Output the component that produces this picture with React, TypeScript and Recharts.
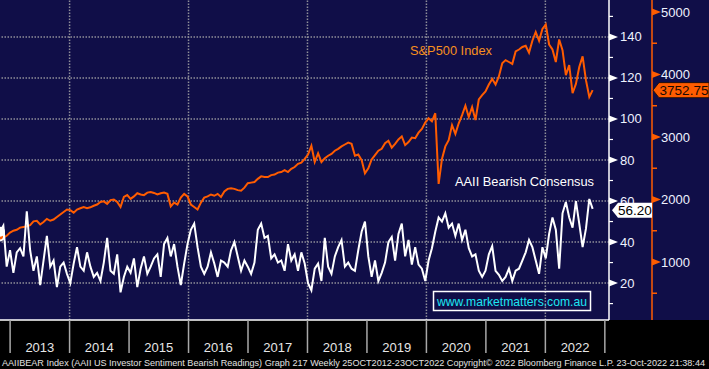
import React from "react";
import { LineChart, Line, XAxis, YAxis, ReferenceLine, ReferenceDot } from "recharts";

// weekly series sampled every ~3 weeks, 25 Oct 2012 .. 23 Oct 2022
const startYear = 2012.83;
const stepYears = 0.0563;

const bearish = [
  45, 48, 28, 36, 25, 35, 37, 33, 55, 36, 26, 33, 19, 31, 43, 28, 31, 18, 28, 30,
  24.5, 20, 29.5, 37.5, 28, 26, 35, 28, 23, 25, 21, 30, 42, 26, 24.5, 34, 15.5, 23, 28, 25,
  32, 18, 27, 33, 24.5, 28, 32, 34, 23, 39, 42, 33, 39, 28, 19, 29.5, 39, 46, 49, 37.5,
  28, 24.5, 28, 35, 29.5, 23, 31, 30, 28, 36, 40, 33, 26, 31, 28, 24.5, 30, 46, 49, 42,
  43, 32, 34, 30, 31, 26, 39, 31, 34, 26, 35, 29.5, 20, 16.5, 27, 29.5, 21, 42, 28, 24.5,
  33, 37.5, 41, 28, 30, 27, 26, 36,
  45, 50, 33, 23, 31, 21, 25, 30, 40, 42.5, 31, 44, 49, 33, 41, 29, 37.5, 29, 27, 21,
  31, 37, 45, 52, 50, 54, 47, 49, 43, 49, 41, 46, 37, 33, 34, 26, 23, 26, 34, 38,
  26, 24, 21, 23, 27, 21, 26, 27, 31, 35, 41, 37.5, 31, 24.5, 37.5, 32, 44, 52, 46, 27,
  54, 59.5, 52, 47, 60, 49, 37.5, 46.5, 61, 56.2,
];

const spx500 = [
  1410, 1390, 1420,
  1470, 1500, 1515, 1550, 1560, 1570, 1590, 1650, 1660, 1600, 1640, 1690, 1660, 1680, 1720, 1760, 1800, 1840,
  1830, 1790, 1840, 1860, 1880, 1860, 1875, 1900, 1920, 1960, 1970, 1930, 1990, 2000, 1960, 1880, 2040, 2070,
  2010, 2050, 2100, 2080, 2070, 2110, 2120, 2105, 2080, 2100, 2110, 2090, 1890, 1950, 1920, 2030, 2090, 2050,
  1920, 1880, 1840, 1950, 2030, 2050, 2080, 2060, 2090, 2040, 2130, 2170, 2180, 2170, 2150, 2140, 2190, 2260,
  2270, 2280, 2330, 2370, 2360, 2360, 2390, 2400, 2430, 2440, 2470, 2440, 2490, 2520, 2570, 2590, 2650,
  2720, 2860, 2600, 2740, 2600, 2660, 2700, 2730, 2780, 2810, 2850, 2880, 2910, 2890, 2700, 2720, 2630, 2420,
  2500, 2640, 2710, 2780, 2810, 2900, 2940, 2830, 2890, 2960, 3010, 2870, 2920, 2990, 2980, 3070, 3130, 3230,
  3300, 3250, 3380, 2250, 2650, 2850, 2950, 3190, 3050, 3220, 3350, 3500, 3320, 3480, 3270, 3600, 3670, 3730,
  3840, 3930, 3840, 3970, 4180, 4230, 4200, 4170, 4370, 4400, 4440, 4460, 4350, 4540, 4680, 4540, 4730, 4800,
  4480, 4400, 4200, 4560, 4390, 3990, 4150, 3700, 3850, 4120, 4290, 3910, 3640, 3750,
];

const yearStarts = [2013, 2014, 2015, 2016, 2017, 2018, 2019, 2020, 2021, 2022, 2023];
const yearLabels = ["2013", "2014", "2015", "2016", "2017", "2018", "2019", "2020", "2021", "2022"];
const yearMids = [2013.5, 2014.5, 2015.5, 2016.5, 2017.5, 2018.5, 2019.5, 2020.5, 2021.5, 2022.5];
const gridYears = [2014, 2016, 2018, 2020, 2022];
const bearTicks = [10, 20, 30, 40, 50, 60, 70, 80, 90, 100, 110, 120, 130, 140, 150];
const bearGrid = [20, 40, 60, 80, 100, 120, 140];
const spxTicks = [500, 1000, 1500, 2000, 2500, 3000, 3500, 4000, 4500, 5000];

const lastBear = "56.20";
const lastSpx = "3752.75";

const data = bearish.map((b, i) => ({ t: startYear + i * stepYears, bear: b, spx: spx500[i] }));

const NAVY = "#100e48";
const ORANGE = "#ff5c00";
const GRID = "#8e8e98";
const FONT = "'Liberation Sans', Arial, sans-serif";

const BearTick = (props: any) => {
  const { x, y, payload } = props;
  const v = payload.value;
  if (v % 20 !== 0) return <line x1={x} x2={x + 4} y1={y} y2={y} stroke="#fff" strokeWidth={1.2} />;
  return (
    <g>
      <polygon points={`${x},${y - 3.5} ${x},${y + 3.5} ${x + 9},${y}`} fill="#fff" />
      <text x={x + 11} y={y + 4.5} fill="#eef2ff" fontSize={13} fontFamily={FONT}>{v}</text>
    </g>
  );
};

const SpxTick = (props: any) => {
  const { x, y, payload } = props;
  const v = payload.value;
  if (v % 1000 !== 0) return <line x1={x} x2={x + 5} y1={y} y2={y} stroke={ORANGE} strokeWidth={1.5} />;
  return (
    <g>
      <polygon points={`${x},${y - 3.5} ${x},${y + 3.5} ${x + 9},${y}`} fill={ORANGE} />
      <text x={x + 9} y={y + 4.5} fill="#eef2ff" fontSize={13} fontFamily={FONT}>{v}</text>
    </g>
  );
};

const NoTick = () => <g />;

const YearTick = (props: any) => (
  <text x={props.x} y={props.y + 31} textAnchor="middle" fill="#e6e6e6" fontSize={13} fontFamily={FONT}>
    {yearLabels[props.index]}
  </text>
);

const BearTag = (props: any) => {
  const { cx, cy } = props;
  const x = cx + 3;
  const y = cy + 1.5;
  return (
    <g>
      <polygon
        points={`${x},${y} ${x + 6},${y - 7.5} ${x + 40},${y - 7.5} ${x + 40},${y + 7.5} ${x + 6},${y + 7.5}`}
        fill="#fff"
      />
      <text x={x + 23} y={y + 5} textAnchor="middle" fill="#000" fontSize={13.5} fontFamily={FONT}>{lastBear}</text>
    </g>
  );
};

const SpxTag = (props: any) => {
  const { cx, cy } = props;
  const x = cx + 44;
  return (
    <g>
      <polygon
        points={`${x},${cy} ${x + 6},${cy - 7.5} ${x + 56},${cy - 7.5} ${x + 56},${cy + 7.5} ${x + 6},${cy + 7.5}`}
        fill={ORANGE}
        stroke="#1a0a00"
        strokeWidth={0.8}
      />
      <text x={x + 31} y={cy + 5} textAnchor="middle" fill="#1a0800" fontSize={13.5} fontFamily={FONT}>{lastSpx}</text>
    </g>
  );
};

const App = () => {
  return (
    <div
      style={{
        position: "relative",
        width: 709,
        height: 369,
        background: `linear-gradient(${NAVY} 0 320px, #000 320px)`,
      }}
    >
      <style>{"body{margin:0}"}</style>
      <LineChart width={709} height={369} data={data} margin={{ top: 0, right: 0, bottom: 0, left: 0 }}>
        <XAxis
          xAxisId={0}
          type="number"
          dataKey="t"
          domain={[2012.83, 2023.07]}
          allowDataOverflow
          ticks={yearStarts}
          interval={0}
          height={1}
          tickSize={33}
          tick={NoTick}
          tickLine={{ stroke: "#a8a8a8", strokeWidth: 1.5 }}
          axisLine={{ stroke: "#fff", strokeWidth: 1.5 }}
        />
        <XAxis
          xAxisId="lab"
          type="number"
          dataKey="t"
          domain={[2012.83, 2023.07]}
          allowDataOverflow
          ticks={yearMids}
          interval={0}
          height={48}
          tickSize={0}
          tickMargin={0}
          tick={YearTick}
          tickLine={false}
          axisLine={false}
        />
        <YAxis
          yAxisId="bear"
          orientation="right"
          width={43}
          domain={[2, 158]}
          allowDataOverflow
          ticks={bearTicks}
          interval={0}
          tickSize={0}
          tickMargin={0}
          tick={BearTick}
          tickLine={false}
          axisLine={{ stroke: "#fff", strokeWidth: 1.5 }}
        />
        <YAxis
          yAxisId="spx"
          orientation="right"
          width={57}
          domain={[72, 5192]}
          allowDataOverflow
          ticks={spxTicks}
          interval={0}
          tickSize={0}
          tickMargin={0}
          tick={SpxTick}
          tickLine={false}
          axisLine={{ stroke: ORANGE, strokeWidth: 1.5 }}
        />
        {bearGrid.map((v) => (
          <ReferenceLine key={"h" + v} yAxisId="bear" y={v} stroke={GRID} strokeWidth={1.5} strokeDasharray="1.5 1.5" />
        ))}
        {gridYears.map((v) => (
          <ReferenceLine key={"v" + v} yAxisId="bear" x={v} stroke={GRID} strokeWidth={1.5} strokeDasharray="1.5 1.5" />
        ))}
        <Line yAxisId="spx" dataKey="spx" stroke={ORANGE} strokeWidth={2} dot={false} isAnimationActive={false} />
        <Line yAxisId="bear" dataKey="bear" stroke="#fff" strokeWidth={2} dot={false} isAnimationActive={false} />
        <ReferenceDot
          yAxisId="bear"
          x={2023.07}
          y={bearish[bearish.length - 1]}
          ifOverflow="visible"
          shape={BearTag}
          zIndex={2000}
        />
        <ReferenceDot
          yAxisId="spx"
          x={2023.07}
          y={spx500[spx500.length - 1]}
          ifOverflow="visible"
          shape={SpxTag}
          zIndex={2000}
        />
      </LineChart>
      <svg
        width={709}
        height={369}
        style={{ position: "absolute", left: 0, top: 0, pointerEvents: "none" }}
      >
        <text x={410} y={55} fill="#f7901e" fontSize={13} fontFamily={FONT} textLength={82} lengthAdjust="spacingAndGlyphs">
          S&amp;P500 Index
        </text>
        <text x={455} y={186} fill="#fff" fontSize={13.5} fontFamily={FONT} textLength={139} lengthAdjust="spacingAndGlyphs">
          AAII Bearish Consensus
        </text>
        <rect x={433.5} y={291.5} width={157} height={19} fill="none" stroke="#fff" strokeWidth={1.5} />
        <text x={512} y={306} textAnchor="middle" fill="#1ee6f2" fontSize={13.5} fontFamily={FONT} textLength={150} lengthAdjust="spacingAndGlyphs">
          www.marketmatters.com.au
        </text>
        <text
          x={2}
          y={366}
          fill="#e2e2e2"
          fontSize={9}
          fontFamily={FONT}
          textLength={703}
          lengthAdjust="spacingAndGlyphs"
        >
          AAIIBEAR Index (AAII US Investor Sentiment Bearish Readings) Graph 217  Weekly 25OCT2012-23OCT2022 Copyright© 2022 Bloomberg Finance L.P.  23-Oct-2022 21:38:44
        </text>
      </svg>
    </div>
  );
};

export default App;
